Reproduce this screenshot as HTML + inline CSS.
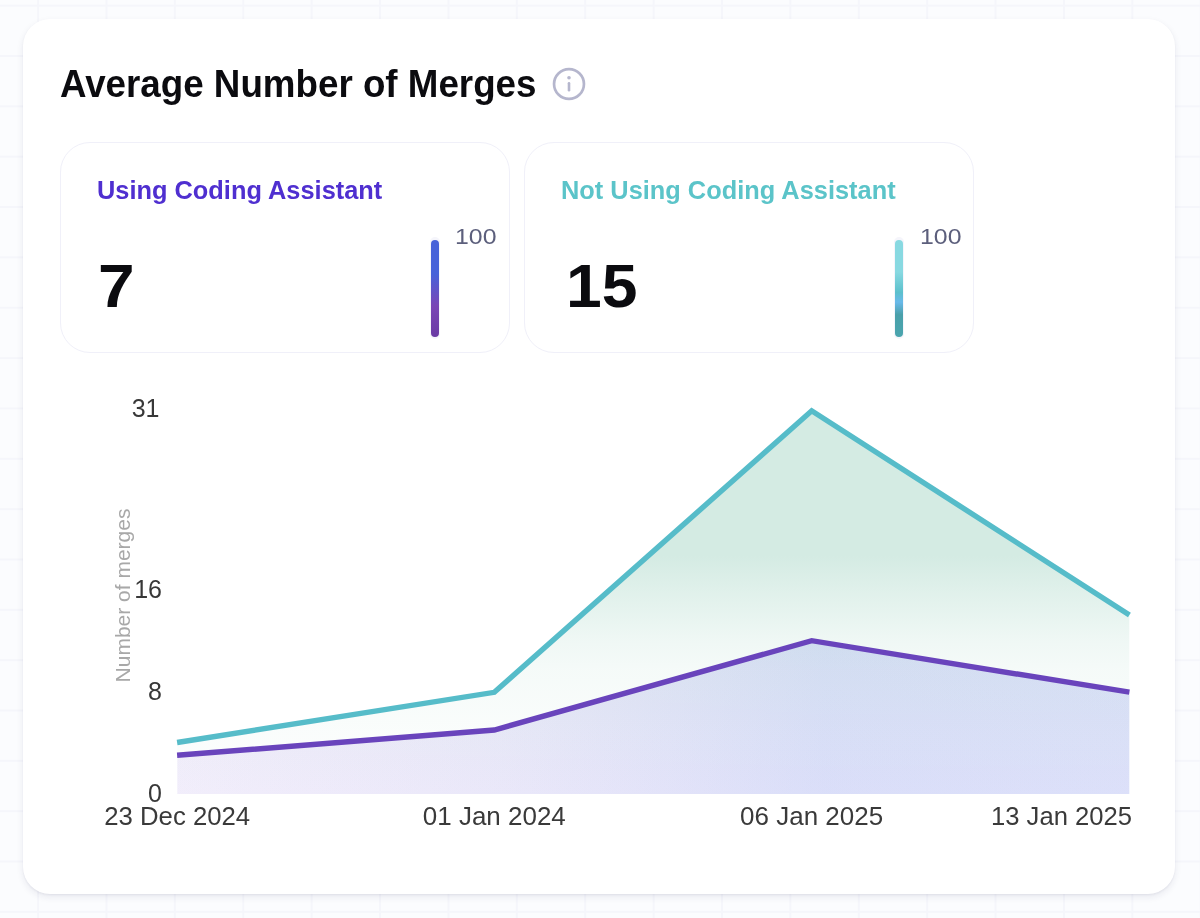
<!DOCTYPE html>
<html lang="en">
<head>
<meta charset="utf-8">
<title>Average Number of Merges</title>
<style>
  html, body { margin: 0; padding: 0; }
  body {
    width: 1200px; height: 918px; overflow: hidden; position: relative;
    font-family: "Liberation Sans", sans-serif;
    background-color: #fbfcfe;
    background-image:
      linear-gradient(to right, #f5f6fb 0, #f5f6fb 1.5px, transparent 1.5px),
      linear-gradient(to bottom, #f5f6fb 0, #f5f6fb 1.5px, transparent 1.5px);
    background-size: 68.4px 50.35px;
    background-position: 37.1px 4.7px;
  }
  .card {
    position: absolute; left: 22.8px; top: 18.5px; width: 1152.2px; height: 875.3px;
    background: #fff; border-radius: 27px;
    box-shadow: 0 3px 7px rgba(30, 40, 80, 0.085), 0 1px 2px rgba(30, 40, 80, 0.06);
  }
  .abs { position: absolute; white-space: nowrap; line-height: 1; }
  .title {
    left: 59.5px; top: 65.2px; font-size: 38px; font-weight: 700; color: #0b0b0f;
    transform-origin: 0 50%; transform: scaleX(0.967);
  }
  .info { position: absolute; left: 550.7px; top: 66.35px; width: 36px; height: 36px; }
  .stat {
    position: absolute; top: 142px; height: 211px; width: 450px;
    border: 1px solid #f0f0f9; border-radius: 30px; background: #fff; box-sizing: border-box;
  }
  .stat.s1 { left: 60px; }
  .stat.s2 { left: 524px; }
  .stat .lbl { left: 35.5px; top: 34px; font-size: 26px; font-weight: 700; transform-origin: 0 50%; transform: scaleX(0.976); }
  .s1 .lbl { color: #4f2fd0; }
  .s2 .lbl { color: #5bc4c9; }
  .stat .val { left: 36px; top: 112px; font-size: 61.5px; font-weight: 700; color: #0b0b0f; transform-origin: 0 50%; transform: scaleX(1.07); }
  .stat.s1 .val { left: 37.3px; }
  .stat.s2 .val { left: 41.2px; transform: scaleX(1.045); }
  .stat .track {
    position: absolute; left: 368.5px; top: 94px; width: 10px; height: 102px; border-radius: 5px; background: #f5f5fb;
  }
  .stat .bar {
    position: absolute; left: 369.5px; top: 96.7px; width: 8px; height: 97.5px; border-radius: 4px;
  }
  .s1 .bar { background: linear-gradient(to bottom, #4762d9 0%, #4762d9 35%, #7a46b6 68%, #6a3aa4 100%); }
  .s2 .bar { background: linear-gradient(to bottom, #88d9e1 0%, #88d9e1 33%, #5cc0cc 54%, #69b9ea 64%, #4aa0aa 77%, #4aa5ae 100%); }
  .stat.s2 .bar { left: 370.1px; }
  .stat.s2 .track { left: 369.1px; }
  .stat .hundred { left: 394px; top: 82px; font-size: 23px; color: #5c5f7c; transform-origin: 0 19.5px; transform: scale(1.08, 0.98); }
  .stat.s2 .hundred { left: 394.6px; }
  svg.chart { position: absolute; left: 0; top: 0; width: 1200px; height: 918px; }
  svg text { font-family: "Liberation Sans", sans-serif; }
</style>
</head>
<body>
<div class="card"></div>

<div class="abs title">Average Number of Merges</div>
<svg class="info" viewBox="0 0 36 36" fill="none">
  <circle cx="18" cy="18" r="14.95" stroke="#b5b6cd" stroke-width="2.7"/>
  <circle cx="18" cy="11.7" r="1.8" fill="#b5b6cd"/>
  <rect x="16.7" y="16" width="2.6" height="9.6" rx="1.3" fill="#b5b6cd"/>
</svg>

<div class="stat s1">
  <div class="abs lbl">Using Coding Assistant</div>
  <div class="abs val">7</div>
  <div class="track"></div><div class="bar"></div>
  <div class="abs hundred">100</div>
</div>
<div class="stat s2">
  <div class="abs lbl">Not Using Coding Assistant</div>
  <div class="abs val">15</div>
  <div class="track"></div><div class="bar"></div>
  <div class="abs hundred">100</div>
</div>

<svg class="chart" viewBox="0 0 1200 918">
  <defs>
    <linearGradient id="gTeal" x1="0" y1="397" x2="0" y2="794" gradientUnits="userSpaceOnUse">
      <stop offset="0" stop-color="#d4ebe3"/>
      <stop offset="0.40" stop-color="#d4ebe3"/>
      <stop offset="0.486" stop-color="#d4ebe3" stop-opacity="0.73"/>
      <stop offset="0.612" stop-color="#d4ebe3" stop-opacity="0.37"/>
      <stop offset="0.688" stop-color="#d4ebe3" stop-opacity="0.23"/>
      <stop offset="0.84" stop-color="#d4ebe3" stop-opacity="0.12"/>
      <stop offset="1" stop-color="#d4ebe3" stop-opacity="0.05"/>
    </linearGradient>
    <linearGradient id="gPurple" x1="177" y1="0" x2="1129" y2="0" gradientUnits="userSpaceOnUse">
      <stop offset="0" stop-color="rgb(140,90,228)" stop-opacity="0.1"/>
      <stop offset="0.34" stop-color="rgb(122,100,224)" stop-opacity="0.145"/>
      <stop offset="0.68" stop-color="rgb(80,95,230)" stop-opacity="0.2"/>
      <stop offset="1" stop-color="rgb(86,100,232)" stop-opacity="0.195"/>
    </linearGradient>
    <linearGradient id="gTint" x1="0" y1="640" x2="0" y2="794" gradientUnits="userSpaceOnUse">
      <stop offset="0" stop-color="rgb(205,255,205)" stop-opacity="0.085"/>
      <stop offset="1" stop-color="rgb(205,255,205)" stop-opacity="0"/>
    </linearGradient>
  </defs>
  <g>
    <path d="M177.3 742.5 L494.3 692.3 L811.7 410.8 L1129.3 615 L1129.3 794 L177.3 794 Z" fill="url(#gTeal)"/>
    <path d="M177.3 755.3 L494.3 730 L811.7 640.7 L1129.3 692.2 L1129.3 794 L177.3 794 Z" fill="url(#gPurple)"/>
    <path d="M177.3 755.3 L494.3 730 L811.7 640.7 L1129.3 692.2 L1129.3 794 L177.3 794 Z" fill="url(#gTint)"/>
    <path d="M177.1 742.5 L494.3 692.3 L811.7 410.8 L1129.4 615" fill="none" stroke="#56bcc9" stroke-width="5.4" stroke-linejoin="miter"/>
    <path d="M177.1 755.3 L494.3 730 L811.7 640.7 L1129.4 692.2" fill="none" stroke="#6944bc" stroke-width="5.4" stroke-linejoin="miter"/>
  </g>
  <g font-size="25" fill="#383838" text-anchor="end">
    <text x="159.5" y="417.2">31</text>
    <text x="162" y="598.2">16</text>
    <text x="162" y="700">8</text>
    <text x="162" y="802">0</text>
  </g>
  <g font-size="25" fill="#3a3a3a" text-anchor="middle">
    <text x="177.2" y="825" textLength="146" lengthAdjust="spacingAndGlyphs">23 Dec 2024</text>
    <text x="494.3" y="825" textLength="143" lengthAdjust="spacingAndGlyphs">01 Jan 2024</text>
    <text x="811.6" y="825" textLength="143" lengthAdjust="spacingAndGlyphs">06 Jan 2025</text>
    <text x="1061.5" y="825" textLength="141" lengthAdjust="spacingAndGlyphs">13 Jan 2025</text>
  </g>
  <text font-size="21" fill="#a8a8a8" text-anchor="middle" transform="translate(130 595.5) rotate(-90)">Number of merges</text>
</svg>
</body>
</html>
